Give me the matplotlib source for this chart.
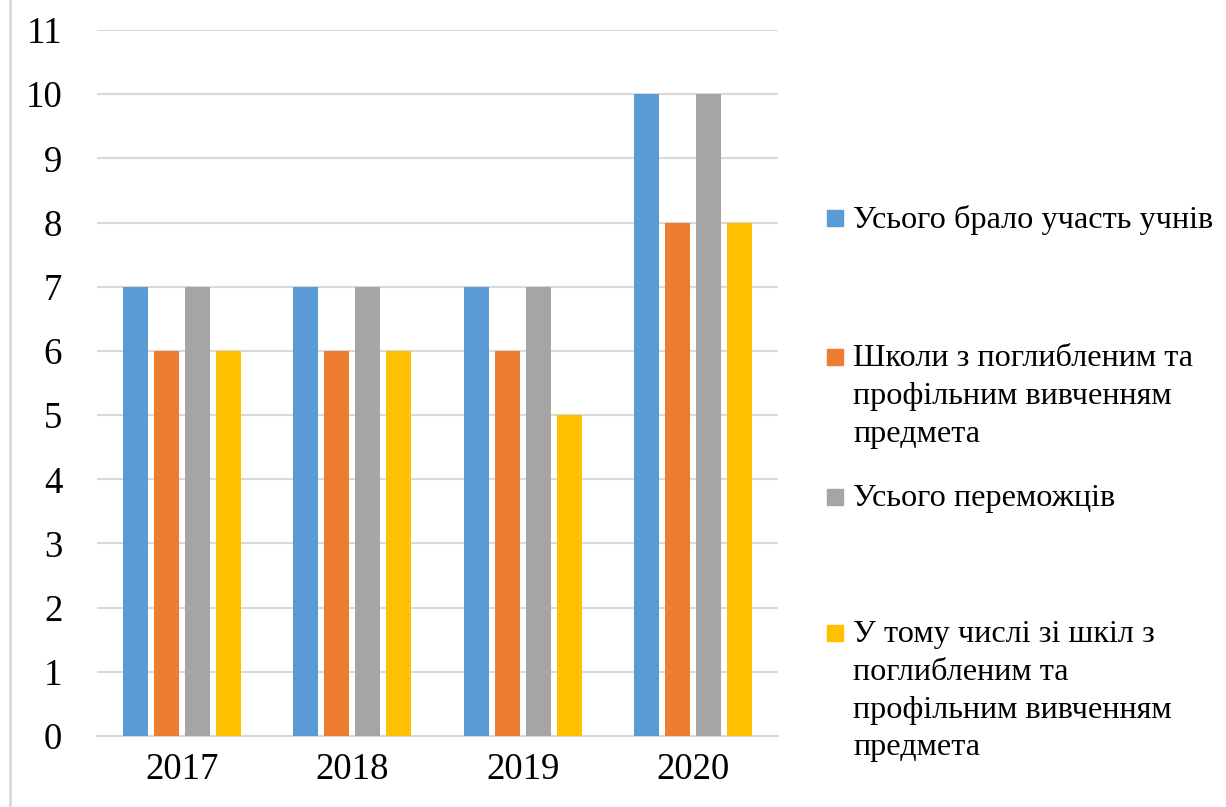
import matplotlib.pyplot as plt
import numpy as np
from matplotlib.patches import Rectangle
from matplotlib.lines import Line2D

plt.rcParams['font.family'] = ['Liberation Serif', 'DejaVu Serif']

years = ['2017', '2018', '2019', '2020']
series_names = ['Усього брало участь учнів',
                'Школи з поглибленим та\nпрофільним вивченням\nпредмета',
                'Усього переможців',
                'У тому числі зі шкіл з\nпоглибленим та\nпрофільним вивченням\nпредмета']
total_students = [7, 7, 7, 10]
profile_schools = [6, 6, 6, 8]
total_winners = [7, 7, 7, 10]
winners_profile = [6, 6, 5, 8]
colors = ['#5B9BD5', '#ED7D31', '#A5A5A5', '#FFC000']

W, H = 1226, 807
fig = plt.figure(figsize=(W / 100, H / 100), dpi=100)
ax = fig.add_axes([97 / W, (H - 736) / H, (778 - 97) / W, (736 - 30) / H])

values = [total_students, profile_schools, total_winners, winners_profile]
x = np.arange(len(years))
bw = 25 / 170.25
step = 31 / 170.25
for i, (vals, c) in enumerate(zip(values, colors)):
    ax.bar(x + (i - 1.5) * step, vals, width=bw, color=c, zorder=3)

ax.set_xlim(-0.5, 3.5)
ax.set_ylim(0, 11)
ax.set_yticks(range(0, 12))
ax.set_xticks(x)
ax.set_xticklabels(years)
ax.grid(axis='y', color='#d9d9d9', linewidth=1.5, zorder=0)
for s in ['top', 'right', 'left']:
    ax.spines[s].set_visible(False)
ax.spines['bottom'].set_color('#d9d9d9')
ax.spines['bottom'].set_linewidth(1.5)
ax.tick_params(axis='both', length=0, labelsize=26.5)
ax.tick_params(axis='y', pad=25)
ax.tick_params(axis='x', pad=12)

# legend placed like the Excel one (first line centre, px from top)
leg_lines = [218, 357, 497, 633]
for name, c, yl in zip(series_names, colors, leg_lines):
    fig.patches.append(Rectangle((827 / W, 1 - (yl + 8) / H), 16 / W, 16 / H,
                                 transform=fig.transFigure, color=c, figure=fig))
    fig.text(853 / W, 1 - (yl - 13) / H, name, fontsize=23.2, va='top',
             ha='left', linespacing=1.4)

fig.lines.append(Line2D([10 / W, 10 / W], [0, 1], color='#d9d9d9', linewidth=2,
                        transform=fig.transFigure))

plt.savefig('out.png', dpi=100)
